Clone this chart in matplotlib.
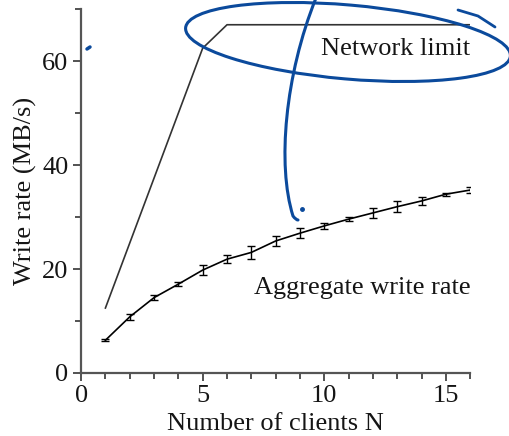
import numpy as np
import matplotlib
matplotlib.use("Agg")
import matplotlib.pyplot as plt
from matplotlib.patches import Ellipse, PathPatch
from matplotlib.path import Path
from matplotlib.ticker import MultipleLocator

# ===== Data =====
clients = [1, 2, 3, 4, 5, 6, 7, 8, 9, 10, 11, 12, 13, 14, 15, 16]
write_rate = [6.3, 10.8, 14.5, 17.1, 19.8, 21.9, 23.2, 25.4, 26.9, 28.3,
              29.6, 30.8, 32.0, 33.1, 34.4, 35.2]
write_err = [0.2, 0.6, 0.5, 0.4, 0.9, 0.8, 1.2, 0.9, 1.0, 0.6,
             0.4, 0.9, 1.0, 0.7, 0.3, 0.5]

limit_n = [1, 5, 6, 16]
limit_rate = [12.5, 62.5, 67, 67]

INK = "#151515"
PEN = "#0b4a9c"

plt.rcParams["font.family"] = ["Liberation Serif", "DejaVu Serif"]
plt.rcParams["font.size"] = 19

fig = plt.figure(figsize=(5.1, 4.36), dpi=100)
ax = fig.add_axes([0.159, 0.1445, 0.763, 0.8345])

ax.plot(limit_n, limit_rate, color="#333333", lw=1.2)
ax.errorbar(clients, write_rate, yerr=write_err, color="black", lw=1.2,
            elinewidth=1.0, capsize=3, capthick=1.0)

ax.text(16, 62.3, "Network limit", ha="right", va="center", color=INK)
ax.text(16, 16.3, "Aggregate write rate", ha="right", va="center", color=INK)

ax.set_xlim(0, 16)
ax.set_ylim(0, 70)
ax.xaxis.set_major_locator(MultipleLocator(5))
ax.xaxis.set_minor_locator(MultipleLocator(1))
ax.yaxis.set_major_locator(MultipleLocator(20))
ax.yaxis.set_minor_locator(MultipleLocator(10))
ax.tick_params(which="major", length=6, width=1.3, color="#444444",
               labelcolor=INK, pad=3)
ax.tick_params(which="minor", length=4, width=1.3, color="#444444")

for side in ("top", "right"):
    ax.spines[side].set_visible(False)
for side in ("left", "bottom"):
    ax.spines[side].set_color("#555555")
    ax.spines[side].set_linewidth(1.6)

ax.set_xlabel("Number of clients N", color=INK, labelpad=4)
ax.set_ylabel("Write rate (MB/s)", color=INK, labelpad=4)

# ===== hand-drawn pen marks (pixel coords) =====
ov = fig.add_axes([0, 0, 1, 1], zorder=10)
ov.set_xlim(0, 510)
ov.set_ylim(436, 0)
ov.axis("off")
ov.patch.set_alpha(0)

ov.add_patch(Ellipse((348, 42), 326, 74, angle=5, fill=False,
                     edgecolor=PEN, lw=2.2))
ov.plot([458, 478, 495], [10, 16, 27], color=PEN, lw=2.0,
        solid_capstyle="round")

stroke = Path([(316, -2), (285, 75), (277, 165), (293, 216), (296, 220), (298, 220)],
              [Path.MOVETO, Path.CURVE4, Path.CURVE4, Path.CURVE4,
               Path.CURVE3, Path.CURVE3])
ov.add_patch(PathPatch(stroke, fill=False, edgecolor=PEN, lw=2.2,
                       capstyle="round"))
ov.plot([302], [209], "o", color=PEN, ms=2.5)
ov.plot([87, 90], [49, 47], color=PEN, lw=2.5, solid_capstyle="round")

fig.savefig("out.png", dpi=100)
